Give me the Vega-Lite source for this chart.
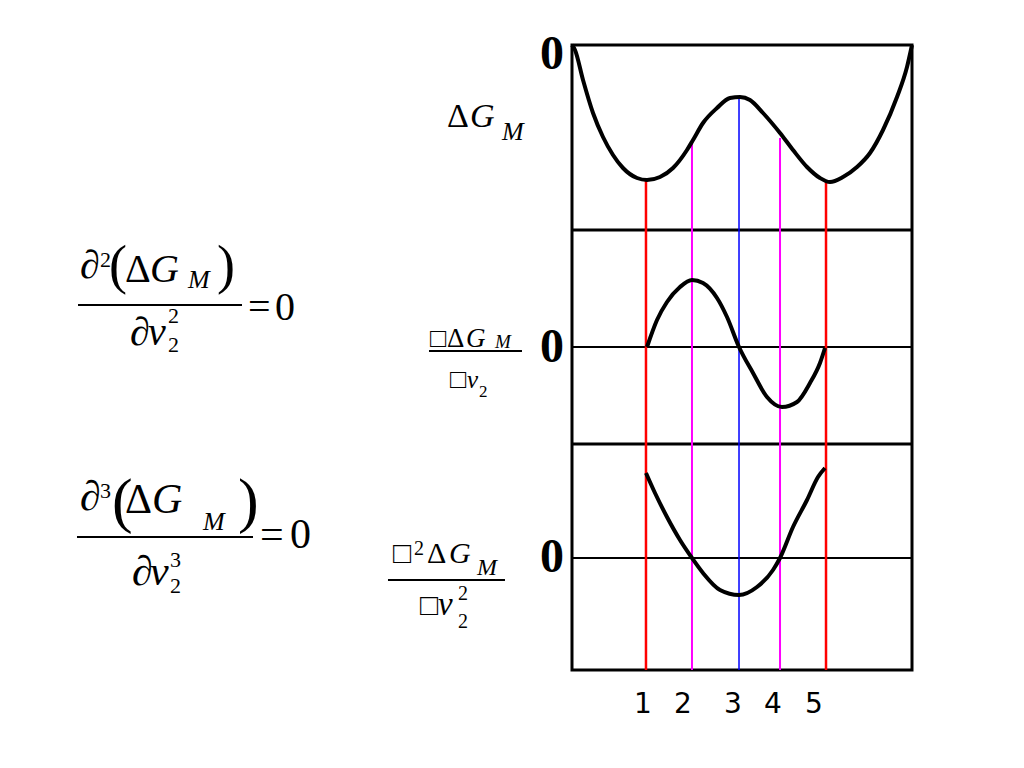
{
"$schema": "https://vega.github.io/schema/vega-lite/v6.json",
"width": 1024, "height": 768,
"autosize": {"type": "fit", "contains": "padding"},
"padding": 0,
"background": "white",
"config": {"view": {"stroke": null}},
"datasets": {
 "box": [{"x": 0, "x2": 1, "y": 0, "y2": 10}],
 "rules": [
  {"kind": "divider", "x": 0, "x2": 1, "y": 7.04},
  {"kind": "divider", "x": 0, "x2": 1, "y": 3.616},
  {"kind": "zero", "x": 0, "x2": 1, "y": 5.168},
  {"kind": "zero", "x": 0, "x2": 1, "y": 1.792},
  {"kind": "fraction", "x": -1.4529, "x2": -0.9706, "y": 5.84},
  {"kind": "fraction", "x": -1.4559, "x2": -0.9382, "y": 2.128},
  {"kind": "fraction", "x": -0.4206, "x2": -0.1471, "y": 5.104},
  {"kind": "fraction", "x": -0.5412, "x2": -0.1971, "y": 1.44}
 ],
 "vlines": [
  {"kind": "minimum", "x": 0.2176, "y": 7.84, "y2": 0},
  {"kind": "inflection", "x": 0.3529, "y": 8.464, "y2": 0},
  {"kind": "maximum", "x": 0.4912, "y": 9.152, "y2": 0},
  {"kind": "inflection", "x": 0.6118, "y": 8.512, "y2": 0},
  {"kind": "minimum", "x": 0.7471, "y": 7.824, "y2": 0}
 ],
 "curves": [
  {"curve": "G", "x": 0, "y": 10},
  {"curve": "G", "x": 0.0088, "y": 9.92},
  {"curve": "G", "x": 0.0324, "y": 9.44},
  {"curve": "G", "x": 0.0618, "y": 8.912},
  {"curve": "G", "x": 0.0912, "y": 8.528},
  {"curve": "G", "x": 0.1206, "y": 8.24},
  {"curve": "G", "x": 0.15, "y": 8.032},
  {"curve": "G", "x": 0.1912, "y": 7.872},
  {"curve": "G", "x": 0.2206, "y": 7.84},
  {"curve": "G", "x": 0.2588, "y": 7.888},
  {"curve": "G", "x": 0.2971, "y": 8.032},
  {"curve": "G", "x": 0.3382, "y": 8.32},
  {"curve": "G", "x": 0.3559, "y": 8.48},
  {"curve": "G", "x": 0.3853, "y": 8.752},
  {"curve": "G", "x": 0.4265, "y": 8.992},
  {"curve": "G", "x": 0.4647, "y": 9.152},
  {"curve": "G", "x": 0.4941, "y": 9.168},
  {"curve": "G", "x": 0.5235, "y": 9.12},
  {"curve": "G", "x": 0.5618, "y": 8.912},
  {"curve": "G", "x": 0.6118, "y": 8.592},
  {"curve": "G", "x": 0.65, "y": 8.32},
  {"curve": "G", "x": 0.6912, "y": 8.048},
  {"curve": "G", "x": 0.7294, "y": 7.872},
  {"curve": "G", "x": 0.7588, "y": 7.808},
  {"curve": "G", "x": 0.7971, "y": 7.888},
  {"curve": "G", "x": 0.8382, "y": 8.048},
  {"curve": "G", "x": 0.8765, "y": 8.272},
  {"curve": "G", "x": 0.9147, "y": 8.64},
  {"curve": "G", "x": 0.9559, "y": 9.168},
  {"curve": "G", "x": 0.9853, "y": 9.648},
  {"curve": "G", "x": 1, "y": 10},
  {"curve": "dG", "x": 0.2206, "y": 5.168},
  {"curve": "dG", "x": 0.25, "y": 5.6},
  {"curve": "dG", "x": 0.2794, "y": 5.888},
  {"curve": "dG", "x": 0.3176, "y": 6.128},
  {"curve": "dG", "x": 0.3529, "y": 6.24},
  {"curve": "dG", "x": 0.3853, "y": 6.192},
  {"curve": "dG", "x": 0.4265, "y": 5.952},
  {"curve": "dG", "x": 0.4559, "y": 5.648},
  {"curve": "dG", "x": 0.4912, "y": 5.168},
  {"curve": "dG", "x": 0.5324, "y": 4.752},
  {"curve": "dG", "x": 0.5735, "y": 4.368},
  {"curve": "dG", "x": 0.6176, "y": 4.208},
  {"curve": "dG", "x": 0.6618, "y": 4.288},
  {"curve": "dG", "x": 0.7, "y": 4.592},
  {"curve": "dG", "x": 0.7294, "y": 4.912},
  {"curve": "dG", "x": 0.7441, "y": 5.152},
  {"curve": "d2G", "x": 0.2176, "y": 3.152},
  {"curve": "d2G", "x": 0.2441, "y": 2.832},
  {"curve": "d2G", "x": 0.2794, "y": 2.448},
  {"curve": "d2G", "x": 0.3176, "y": 2.08},
  {"curve": "d2G", "x": 0.3529, "y": 1.792},
  {"curve": "d2G", "x": 0.3853, "y": 1.552},
  {"curve": "d2G", "x": 0.4353, "y": 1.28},
  {"curve": "d2G", "x": 0.4912, "y": 1.2},
  {"curve": "d2G", "x": 0.5441, "y": 1.328},
  {"curve": "d2G", "x": 0.5912, "y": 1.6},
  {"curve": "d2G", "x": 0.6118, "y": 1.792},
  {"curve": "d2G", "x": 0.65, "y": 2.288},
  {"curve": "d2G", "x": 0.6912, "y": 2.72},
  {"curve": "d2G", "x": 0.7235, "y": 3.088},
  {"curve": "d2G", "x": 0.7441, "y": 3.232}
 ],
 "upright": [
  {"txt": "∂", "x": -1.4471, "y": 6.272, "role": "F1"},
  {"txt": "2", "x": -1.3882, "y": 6.448, "role": "Fs"},
  {"txt": "(", "x": -1.3618, "y": 6.192, "role": "P1"},
  {"txt": "Δ", "x": -1.3147, "y": 6.208, "role": "F1"},
  {"txt": ")", "x": -1.0441, "y": 6.192, "role": "P1"},
  {"txt": "=", "x": -0.9529, "y": 5.6, "role": "F1"},
  {"txt": "0", "x": -0.8735, "y": 5.6, "role": "F1"},
  {"txt": "∂", "x": -1.3, "y": 5.2, "role": "F1"},
  {"txt": "2", "x": -1.1882, "y": 5.552, "role": "Fs"},
  {"txt": "2", "x": -1.1882, "y": 5.088, "role": "Fs"},
  {"txt": "∂", "x": -1.4471, "y": 2.56, "role": "F2"},
  {"txt": "3", "x": -1.3882, "y": 2.752, "role": "Fs"},
  {"txt": "(", "x": -1.3529, "y": 2.384, "role": "P2"},
  {"txt": "Δ", "x": -1.3147, "y": 2.512, "role": "F2"},
  {"txt": ")", "x": -0.9824, "y": 2.384, "role": "P2"},
  {"txt": "=", "x": -0.9176, "y": 1.952, "role": "F2"},
  {"txt": "0", "x": -0.8294, "y": 1.952, "role": "F2"},
  {"txt": "∂", "x": -1.2941, "y": 1.36, "role": "F2"},
  {"txt": "3", "x": -1.1824, "y": 1.648, "role": "Fs"},
  {"txt": "2", "x": -1.1824, "y": 1.232, "role": "Fs"},
  {"txt": "Δ", "x": -0.3676, "y": 8.688, "role": "L1"},
  {"txt": "□", "x": -0.4176, "y": 5.168, "role": "L2"},
  {"txt": "Δ", "x": -0.3676, "y": 5.168, "role": "L2"},
  {"txt": "□", "x": -0.3588, "y": 4.512, "role": "L2"},
  {"txt": "2", "x": -0.2735, "y": 4.368, "role": "L2s"},
  {"txt": "□", "x": -0.5265, "y": 1.712, "role": "L3"},
  {"txt": "2", "x": -0.4647, "y": 1.84, "role": "L3s"},
  {"txt": "Δ", "x": -0.4265, "y": 1.712, "role": "L3"},
  {"txt": "□", "x": -0.4471, "y": 0.88, "role": "L3"},
  {"txt": "2", "x": -0.3353, "y": 1.12, "role": "L3s"},
  {"txt": "2", "x": -0.3353, "y": 0.672, "role": "L3s"}
 ],
 "italic": [
  {"txt": "G", "x": -1.2412, "y": 6.208, "role": "F1"},
  {"txt": "M", "x": -1.1294, "y": 6.112, "role": "FM"},
  {"txt": "v", "x": -1.2471, "y": 5.2, "role": "F1"},
  {"txt": "G", "x": -1.2353, "y": 2.512, "role": "F2"},
  {"txt": "M", "x": -1.0853, "y": 2.24, "role": "FM"},
  {"txt": "v", "x": -1.2412, "y": 1.36, "role": "F2"},
  {"txt": "G", "x": -0.3, "y": 8.688, "role": "L1"},
  {"txt": "M", "x": -0.2059, "y": 8.48, "role": "L1s"},
  {"txt": "G", "x": -0.3118, "y": 5.168, "role": "L2"},
  {"txt": "M", "x": -0.2265, "y": 5.152, "role": "L2M"},
  {"txt": "v", "x": -0.3088, "y": 4.512, "role": "L2v"},
  {"txt": "G", "x": -0.3618, "y": 1.712, "role": "L3"},
  {"txt": "M", "x": -0.2794, "y": 1.52, "role": "L3M"},
  {"txt": "v", "x": -0.3941, "y": 0.88, "role": "L3v"}
 ],
 "zeros": [
  {"txt": "0", "x": -0.0588, "y": 9.616},
  {"txt": "0", "x": -0.0588, "y": 4.928},
  {"txt": "0", "x": -0.0588, "y": 1.568}
 ],
 "points": [
  {"txt": "1", "x": 0.2088, "y": -0.688},
  {"txt": "2", "x": 0.3265, "y": -0.688},
  {"txt": "3", "x": 0.4735, "y": -0.688},
  {"txt": "4", "x": 0.5912, "y": -0.688},
  {"txt": "5", "x": 0.7118, "y": -0.688}
 ]
},
"encoding": {
 "x": {"field": "x", "type": "quantitative", "scale": {"domain": [-1.68235, 1.32941], "nice": false, "zero": false}, "axis": null},
 "y": {"field": "y", "type": "quantitative", "scale": {"domain": [-1.568, 10.72], "nice": false, "zero": false}, "axis": null}
},
"resolve": {"scale": {"strokeWidth": "independent", "color": "independent"}},
"layer": [
 {"data": {"name": "box"}, "mark": {"type": "rect", "fillOpacity": 0, "stroke": "black", "strokeWidth": 3},
  "encoding": {"x2": {"field": "x2"}, "y2": {"field": "y2"}}},
 {"data": {"name": "rules"}, "mark": {"type": "rule", "color": "black"},
  "encoding": {"x2": {"field": "x2"},
   "strokeWidth": {"field": "kind", "type": "nominal", "scale": {"type": "ordinal", "domain": ["divider", "zero", "fraction"], "range": [3, 2, 2]}, "legend": null}}},
 {"data": {"name": "vlines"}, "mark": {"type": "rule"},
  "encoding": {"y2": {"field": "y2"},
   "color": {"field": "kind", "type": "nominal", "scale": {"domain": ["minimum", "inflection", "maximum"], "range": ["#ff0000", "#ff00ff", "#0000ff"]}, "legend": null},
   "strokeWidth": {"field": "kind", "type": "nominal", "scale": {"type": "ordinal", "domain": ["minimum", "inflection", "maximum"], "range": [2.5, 2, 1.5]}, "legend": null}}},
 {"data": {"name": "curves"}, "mark": {"type": "line", "color": "black", "strokeWidth": 4, "interpolate": "monotone"},
  "encoding": {"detail": {"field": "curve"}}},
 {"data": {"name": "upright"}, "mark": {"type": "text", "font": "Liberation Serif", "align": "left", "baseline": "alphabetic", "color": "black"},
  "encoding": {"text": {"field": "txt"},
   "size": {"field": "role", "type": "nominal", "scale": {"type": "ordinal", "domain": ["F1", "F2", "Fs", "FM", "P1", "P2", "L1", "L1s", "L2", "L2s", "L2M", "L2v", "L3", "L3s", "L3M", "L3v"], "range": [40, 42, 22, 26, 54, 62, 34, 26, 27, 17, 19, 25, 30, 20, 24, 33]}, "legend": null}}},
 {"data": {"name": "italic"}, "mark": {"type": "text", "font": "Liberation Serif", "fontStyle": "italic", "align": "left", "baseline": "alphabetic", "color": "black"},
  "encoding": {"text": {"field": "txt"},
   "size": {"field": "role", "type": "nominal", "scale": {"type": "ordinal", "domain": ["F1", "F2", "Fs", "FM", "P1", "P2", "L1", "L1s", "L2", "L2s", "L2M", "L2v", "L3", "L3s", "L3M", "L3v"], "range": [40, 42, 22, 26, 54, 62, 34, 26, 27, 17, 19, 25, 30, 20, 24, 33]}, "legend": null}}},
 {"data": {"name": "zeros"}, "mark": {"type": "text", "font": "Liberation Serif", "fontWeight": "bold", "fontSize": 48, "align": "center", "baseline": "alphabetic", "color": "black"},
  "encoding": {"text": {"field": "txt"}}},
 {"data": {"name": "points"}, "mark": {"type": "text", "font": "DejaVu Sans", "fontSize": 28, "align": "center", "baseline": "alphabetic", "color": "black"},
  "encoding": {"text": {"field": "txt"}}}
]
}
